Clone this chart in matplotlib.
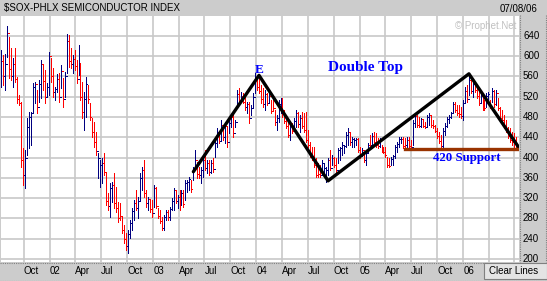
import matplotlib
matplotlib.use('Agg')
import matplotlib.pyplot as plt
import matplotlib.dates as mdates
import matplotlib.transforms as mtransforms
from matplotlib.patches import Rectangle
from matplotlib.lines import Line2D
import numpy as np
import pandas as pd

# ---------------- data (weekly bars) ----------------
highs = [612,602,604,660,638,616,597,616,559,523,
         510,419,415,478,490,490,547,549,533,553,
         592,582,572,547,608,596,576,539,564,566,
         582,556,568,643,641,616,602,612,592,622,
         586,549,530,559,543,507,478,470,451,409,
         395,399,409,372,330,350,352,369,342,312,
         310,283,267,251,257,277,300,316,336,322,
         369,381,395,336,322,316,316,346,342,300,
         297,283,287,297,297,302,320,340,336,326,
         336,336,336,356,356,362,356,381,415,391,
         381,381,401,415,395,395,395,399,434,458,
         444,474,460,470,460,474,484,488,474,533,
         537,529,527,519,509,509,503,527,566,559,
         557,543,537,533,527,529,513,519,494,484,
         513,517,517,494,478,468,470,468,478,494,
         490,484,490,488,490,454,430,421,421,399,
         389,385,395,388,381,399,415,405,401,399,
         419,421,430,425,450,458,450,440,438,438,
         438,421,419,411,411,428,444,448,450,448,
         438,438,425,421,421,401,399,401,405,425,
         430,440,440,440,438,440,440,434,474,488,
         484,480,478,474,470,484,488,484,474,464,
         458,450,444,458,468,480,484,490,509,509,
         503,503,499,513,539,543,562,557,553,549,
         539,529,527,523,513,527,529,513,537,533,
         533,517,499,494,484,474,460,458,450,448,440]
lows = [539,543,533,598,556,553,540,549,507,503,
        382,346,340,405,419,425,490,507,487,509,
        517,533,507,519,523,549,519,513,529,509,
        537,500,519,566,579,576,566,572,547,562,
        513,478,454,480,507,474,441,421,405,360,
        342,349,366,306,297,283,312,301,293,273,
        277,251,232,218,212,241,257,277,297,281,
        316,336,322,302,297,293,283,302,300,281,
        271,257,257,277,277,277,297,297,310,300,
        297,306,302,316,332,336,332,356,375,360,
        359,350,361,375,369,366,369,371,401,421,
        428,434,434,428,421,448,460,441,460,500,
        507,509,507,494,487,468,484,497,527,533,
        527,507,499,494,503,507,487,494,464,454,
        470,487,480,468,458,441,434,448,454,460,
        460,450,458,450,430,421,401,395,381,361,
        361,361,366,362,352,366,375,385,381,371,
        389,395,405,409,421,425,425,421,421,425,
        411,399,405,391,385,411,419,419,425,421,
        419,421,411,409,401,381,381,385,385,399,
        411,421,428,419,421,419,419,419,425,460,
        460,460,460,460,458,460,464,460,458,450,
        438,428,417,421,444,460,468,478,487,490,
        484,480,478,474,507,509,523,527,519,529,
        517,503,507,494,494,499,507,497,509,499,
        503,494,474,470,458,450,438,430,425,421,421]
closes = [590,560,585,645,575,560,585,555,515,508,
          395,365,400,460,480,488,540,545,500,545,
          585,550,520,540,600,560,530,535,555,520,
          570,515,560,630,590,585,595,580,555,600,
          520,490,515,545,515,480,450,430,412,400,
          385,390,372,315,305,340,345,310,300,280,
          285,258,240,225,250,270,295,310,300,315,
          360,375,330,310,318,298,290,340,305,285,
          275,262,282,292,282,298,315,335,315,322,
          302,330,308,350,352,358,338,375,395,368,
          365,375,395,380,390,372,390,378,428,450,
          432,465,440,462,430,468,480,448,470,525,
          512,522,510,500,505,478,498,520,555,540,
          532,515,505,525,508,522,492,498,470,478,
          505,510,488,472,462,445,465,452,472,488,
          466,478,462,455,435,425,405,400,385,365,
          368,365,390,380,375,395,380,400,385,375,
          415,418,425,422,445,450,430,436,434,436,
          415,402,415,395,408,425,425,442,430,425,
          422,434,414,411,404,385,384,398,402,420,
          426,436,437,423,424,435,422,421,468,482,
          465,463,475,463,461,480,484,465,462,452,
          442,432,422,452,462,476,480,487,505,494,
          488,485,482,508,532,515,552,532,545,533,
          522,508,522,498,497,522,525,500,532,505,
          528,498,478,474,462,455,442,435,430,426,424]
# B = up (blue) week, R = down (red) week
direction = ("BRBBRRBRRR" "RRBBBBBBRB" "BRRBBRRBBR" "BRBBRRBRRB" "RRBBRRRRRB"
             "BBRRRBBRRR" "RRRRBBBBRB" "BBRRBRRBRR" "RRBBRBBBRB" "RBRBBBRBBR"
             "RBBRBRBRBB" "RBRBRBBRBB" "RBRRBRBBBR" "RRRBRBRRRB" "BBRRRRBRBB"
             "RBRRRRRRRR" "RRBBBBRBRR" "BBBBBBRBBB" "RRBRBBRBRR" "RBRRRRRBBB"
             "BBBRRBRRBB" "RRBRRBBRRR" "RRRBBBBBBR" "RRRBBRBRBR" "RRBRRBBRBR"
             "BRRRRRRRRRR")
last_week = "2006-07-07"

quarter_starts = ["2001-10-01", "2002-01-01", "2002-04-01", "2002-07-01",
                  "2002-10-01", "2003-01-01", "2003-04-01", "2003-07-01",
                  "2003-10-01", "2004-01-01", "2004-04-01", "2004-07-01",
                  "2004-10-01", "2005-01-01", "2005-04-01", "2005-07-01",
                  "2005-10-01", "2006-01-01", "2006-04-01", "2006-07-01"]
# the last two quarter labels sit under the "Clear Lines" button in the original
quarter_labels = ["Oct", "02", "Apr", "Jul", "Oct", "03", "Apr", "Jul", "Oct", "04",
                  "Apr", "Jul", "Oct", "05", "Apr", "Jul", "Oct", "06"]
price_ticks = [200, 240, 280, 320, 360, 400, 440, 480, 520, 560, 600, 640]

# trend-line annotations (date, value)
trend_dates = ["2003-05-23", "2004-01-10", "2004-09-10", "2006-01-21", "2006-07-16"]
trend_values = [372, 562, 354, 565, 420]
support_dates = ["2005-06-09", "2006-07-16"]
support_value = 417

# ---------------- figure ----------------
W, H = 547, 281
GREY = '#cccccc'
BLUE = '#000080'
RED = '#ff0000'
plt.rcParams['font.family'] = ['Liberation Sans', 'DejaVu Sans']

fig = plt.figure(figsize=(W / 100, H / 100), dpi=100)
fig.patch.set_facecolor(GREY)
ax = fig.add_axes([1 / W, 19 / H, 518 / W, 246 / H])
ax.set_facecolor('white')
for s in ax.spines.values():
    s.set_visible(False)
ax.set_xticks([])
ax.set_yticks([])

x0 = mdates.date2num(pd.Timestamp("2001-07-12"))
x1 = mdates.date2num(pd.Timestamp("2006-07-17"))
ax.set_xlim(x0, x1)
ax.set_ylim(194, 679)

# grid
for q in quarter_starts:
    ax.axvline(mdates.date2num(pd.Timestamp(q)), color='#c8c8c8', lw=1.2, zorder=0)
for v in price_ticks:
    ax.axhline(v, color='#c8c8c8', lw=1.2, zorder=0)

# bars
n = len(highs)
weeks = pd.date_range(end=last_week, periods=n, freq='7D')
xs = mdates.date2num(weeks)
cols = [BLUE if d == 'B' else RED for d in direction]
hi = np.array(highs)
lo = np.array(lows)
cl = np.array(closes)
op = np.r_[cl[0], cl[:-1]]
ax.vlines(xs, lo, hi, colors=cols, lw=0.72, zorder=2, antialiased=False)
ax.hlines(cl, xs, xs + 3.0, colors=cols, lw=0.72, zorder=2, antialiased=False)
ax.hlines(op, xs - 3.0, xs, colors=cols, lw=0.72, zorder=2, antialiased=False)

# trend lines
tx = mdates.date2num(pd.to_datetime(trend_dates))
ax.plot(tx, trend_values, color='black', lw=2.4, solid_capstyle='round', zorder=4)
sx = mdates.date2num(pd.to_datetime(support_dates))
ax.plot(sx, [support_value, support_value], color='#993300', lw=2.4, zorder=4)

# annotation texts
serif = ['Liberation Serif', 'DejaVu Serif']
ax.text(mdates.date2num(pd.Timestamp("2004-01-11")), 572, "E", color='#0000ff',
        fontsize=9.5, fontweight='bold', family=serif, ha='center', va='center', zorder=5)
ax.text(mdates.date2num(pd.Timestamp("2005-01-21")), 577, "Double Top", color='#0000ff',
        fontsize=11, fontweight='bold', family=serif, ha='center', va='center', zorder=5)
ax.text(mdates.date2num(pd.Timestamp("2006-01-14")), 399, "420 Support", color='#0000ff',
        fontsize=9.3, fontweight='bold', family=serif, ha='center', va='center', zorder=5)

# watermark
ax.text(1.0 - 3 / 518, 1.0 - 10 / 246, "\u00a9 Prophet.Net", color='#c0c0c0',
        fontsize=7, ha='right', va='center', transform=ax.transAxes, zorder=1)

# y labels (right side)
ytrans = mtransforms.blended_transform_factory(ax.transAxes, ax.transData)
for v in price_ticks:
    ax.text(1.0 + 4 / 518, v, str(v), fontsize=7, ha='left', va='center',
            transform=ytrans, color='black', clip_on=False)

# x labels
xtrans = mtransforms.blended_transform_factory(ax.transData, ax.transAxes)
for q, lab in zip(quarter_starts, quarter_labels):
    ax.text(mdates.date2num(pd.Timestamp(q)), -9.5 / 246, lab, fontsize=7,
            ha='left', va='center', transform=xtrans, clip_on=False, zorder=1)

# title band
def fx(px):
    return px / W

def fy(py):
    return 1 - py / H

fig.add_artist(Rectangle((0, fy(15)), 1, 15 / H, transform=fig.transFigure,
                         facecolor=GREY, edgecolor='none', zorder=3))
fig.text(fx(4), fy(7.5), "$SOX-PHLX SEMICONDUCTOR INDEX", fontsize=7, ha='left',
         va='center', color='#000000', zorder=4)
fig.text(fx(538), fy(8.5), "07/08/06", fontsize=7, ha='right', va='center',
         color='#000000', zorder=4)

# dotted borders
dot = dict(color='#808080', lw=0.8, linestyle=(0, (1, 1)), transform=fig.transFigure)
fig.add_artist(Line2D([0, 1], [fy(0.5), fy(0.5)], **dot))
fig.add_artist(Line2D([fx(519.5), fx(519.5)], [fy(15), fy(262)], **dot))
fig.add_artist(Line2D([0, fx(484)], [fy(262.5), fy(262.5)], **dot))
fig.add_artist(Line2D([fx(546), fx(546)], [fy(15), fy(262)], **dot))
fig.add_artist(Line2D([0, 1], [fy(280.5), fy(280.5)], **dot))

# Clear Lines button
fig.add_artist(Rectangle((fx(484), fy(279)), (547 - 484) / W, 16 / H,
                         transform=fig.transFigure, facecolor='#e4e4e4',
                         edgecolor='#808080', lw=0.8, zorder=6))
fig.text(fx(513.5), fy(270.5), "Clear Lines", fontsize=7, ha='center', va='center',
         color='black', zorder=7)

fig.savefig("out.png", dpi=100, facecolor=fig.get_facecolor())
